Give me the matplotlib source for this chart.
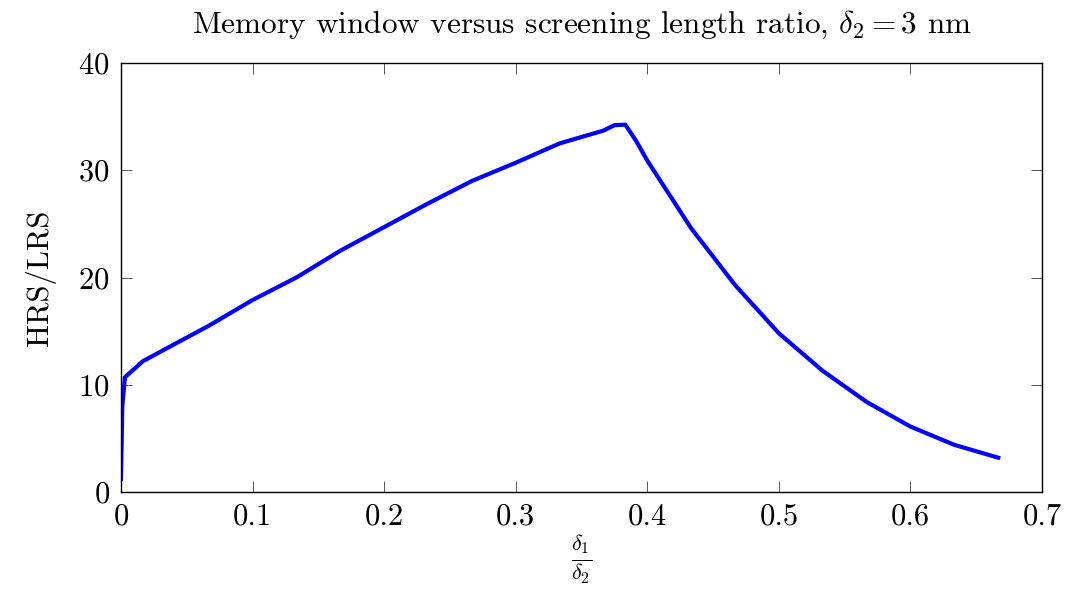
import matplotlib.pyplot as plt

plt.rcParams["font.family"] = "serif"
plt.rcParams["font.serif"] = ["cmr10"]
plt.rcParams["mathtext.fontset"] = "cm"
plt.rcParams["axes.formatter.use_mathtext"] = True

# Screening length ratio delta1/delta2 and memory window HRS/LRS
ratio = [0.0, 0.001, 0.003, 0.0167, 0.0333, 0.0667, 0.1, 0.1333, 0.1667,
         0.2, 0.2333, 0.2667, 0.3, 0.3333, 0.3667, 0.375, 0.3833, 0.3917,
         0.4, 0.4333, 0.4667, 0.5, 0.5333, 0.5667, 0.6, 0.6333, 0.6667]
hrs_lrs = [1.2, 8.0, 10.7, 12.2, 13.3, 15.5, 17.9, 20.0, 22.5,
           24.7, 26.9, 29.0, 30.7, 32.5, 33.7, 34.2, 34.25, 32.7,
           30.9, 24.6, 19.3, 14.8, 11.3, 8.4, 6.1, 4.4, 3.2]

x_ticks = [0, 0.1, 0.2, 0.3, 0.4, 0.5, 0.6, 0.7]
x_labels = ["0", "0.1", "0.2", "0.3", "0.4", "0.5", "0.6", "0.7"]
y_ticks = [0, 10, 20, 30, 40]

fig = plt.figure(figsize=(10.66, 5.9), dpi=100)
ax = fig.add_axes([0.1135, 0.1661, 0.8640, 0.7271])

ax.plot(ratio, hrs_lrs, color="#0000ff", linewidth=3.0, solid_joinstyle="miter")

ax.set_xlim(0, 0.7)
ax.set_ylim(0, 40)
ax.set_xticks(x_ticks)
ax.set_xticklabels(x_labels)
ax.set_yticks(y_ticks)
ax.tick_params(direction="in", length=8, width=0.7, color="#555555",
               labelsize=22, pad=8, top=True, right=True)
for s in ax.spines.values():
    s.set_linewidth(1.0)

ax.set_title(r"Memory window versus screening length ratio, $\delta_2 = 3$ nm",
             fontsize=22.5, pad=22)
ax.set_ylabel("HRS/LRS", fontsize=22, labelpad=16)
ax.set_xlabel(r"$\frac{\delta_1}{\delta_2}$", fontsize=23, labelpad=1)

fig.savefig("out.png", dpi=100)
